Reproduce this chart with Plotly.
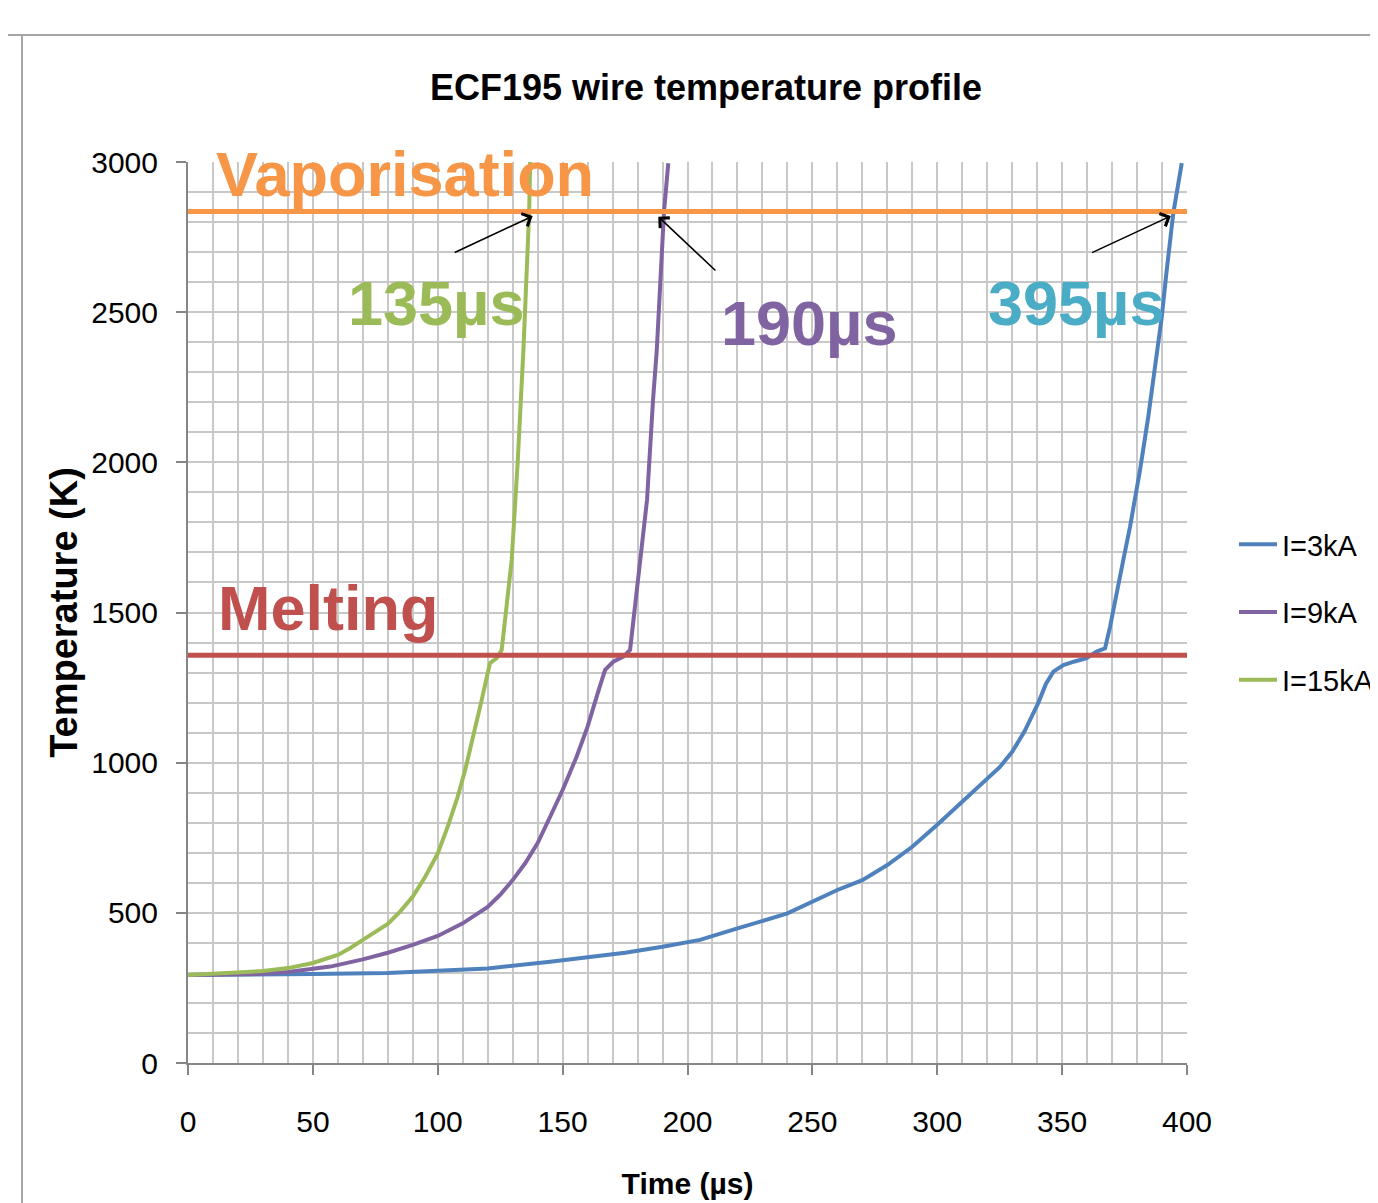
import plotly.graph_objects as go

# ---- data ----
t_3kA = [0, 20, 45, 50, 80, 100, 120, 145, 175, 190, 205, 220, 240, 260, 270, 280, 290, 300, 310, 319, 325, 330, 335,
         340.5, 343.5, 346.5, 350.5, 355, 359.8, 363.8, 367.2, 369.2, 371.2, 374.5, 377.2, 381.2, 384.5, 387.2, 389.9,
         391.9, 394.5, 397.9]
T_3kA = [293, 293, 294, 296, 300, 306, 315, 337, 367, 387, 410, 448, 498, 576, 609, 659, 720, 793, 870, 942, 985, 1036,
         1105, 1200, 1262, 1303, 1325, 1337, 1348, 1370, 1381, 1453, 1542, 1675, 1786, 1975, 2152, 2308, 2485,
         2641, 2829, 2996]

t_9kA = [0, 20, 30, 40, 50, 57, 70, 80, 90, 100, 110, 120, 125, 130, 135, 140, 145, 150, 155.6, 160, 164, 167, 170.3,
         174.3, 177, 181, 183.8, 186.2, 187.7, 190.6, 192.3]
T_9kA = [293, 294, 297, 303, 313, 321, 345, 367, 393, 423, 465, 520, 560, 609, 665, 732, 820, 909, 1020, 1120, 1230,
         1309, 1336, 1353, 1375, 1675, 1875, 2208, 2374, 2835, 2996]

t_15kA = [0, 17, 30, 40, 50, 60, 65, 70, 75, 80, 85, 90, 95, 100, 104, 108, 111, 114, 117.6, 120.9, 123.6, 125.6,
          129.6, 132, 134.3, 136.6, 137]
T_15kA = [293, 299, 306, 316, 333, 360, 383, 410, 435, 463, 505, 554, 620, 698, 787, 887, 976, 1076, 1209, 1331,
          1348, 1375, 1675, 2000, 2374, 2834, 3000]

series_names = ["I=3kA", "I=9kA", "I=15kA"]
series_colors = ["#4F81BD", "#8064A2", "#9BBB59"]

T_melt = 1358
T_vap = 2835
t_span = [0, 400]

x_ticks = [0, 50, 100, 150, 200, 250, 300, 350, 400]
y_ticks = [0, 500, 1000, 1500, 2000, 2500, 3000]

# annotation labels
labels = ["Vaporisation", "Melting", "135µs", "190µs", "395µs"]
label_t = [10.4, 11.2, 99.3, 248.8, 355.4]
label_T = [2960, 1515, 2531, 2464, 2531]
label_colors = ["#F79646", "#C0504D", "#9BBB59", "#8064A2", "#4BACC6"]
label_anchor = ["left", "left", "center", "center", "center"]

# arrows: tail (t, T) -> head (t, T)
arrow_tail_t = [106.2, 211.8, 361.4]
arrow_tail_T = [2696, 2634, 2696]
arrow_head_t = [138.0, 188.3, 393.5]
arrow_head_T = [2820, 2818, 2820]

FONT = "Liberation Sans, Arial, sans-serif"

# page has an 8px body margin: figure is laid out 8px smaller
W, H = 1370, 1195
L, R, T, B = 180, 191, 154, 140
PW, PH = W - L - R, H - T - B

fig = go.Figure()
for i, (tt, TT) in enumerate([(t_3kA, T_3kA), (t_9kA, T_9kA), (t_15kA, T_15kA)]):
    fig.add_trace(go.Scatter(x=tt, y=TT, mode="lines", name=series_names[i],
                             line=dict(color=series_colors[i], width=4),
                             legendgroup=series_names[i]))

fig.add_trace(go.Scatter(x=t_span, y=[T_melt, T_melt], mode="lines", showlegend=False,
                         line=dict(color="#C0504D", width=5), hoverinfo="skip"))
fig.add_trace(go.Scatter(x=t_span, y=[T_vap, T_vap], mode="lines", showlegend=False,
                         line=dict(color="#F79646", width=5), hoverinfo="skip"))

annotations = []
for i in range(len(labels)):
    annotations.append(dict(x=label_t[i], y=label_T[i], xref="x", yref="y", text="<b>%s</b>" % labels[i],
                            showarrow=False, xanchor=label_anchor[i], yanchor="middle",
                            font=dict(family=FONT, size=63, color=label_colors[i])))
for i in range(len(arrow_head_t)):
    annotations.append(dict(x=arrow_head_t[i], y=arrow_head_T[i], ax=arrow_tail_t[i], ay=arrow_tail_T[i],
                            xref="x", yref="y", axref="x", ayref="y", text="", showarrow=True,
                            arrowhead=4, arrowsize=1.7, arrowwidth=1.6, arrowcolor="black"))

frame_y = (H - 27 - B) / PH
frame_x = (14 - L) / PW

fig.update_layout(
    width=W, height=H,
    paper_bgcolor="white", plot_bgcolor="white",
    margin=dict(l=L, r=R, t=T, b=B, autoexpand=False),
    title=dict(text="<b>ECF195 wire temperature profile</b>", x=698 / W, xanchor="center",
               xref="container", yref="container", y=1 - 79 / H, yanchor="middle",
               font=dict(family=FONT, size=36, color="black")),
    showlegend=True,
    legend=dict(x=1226 / W, xref="container", xanchor="left", y=0.5, yanchor="middle",
                font=dict(family=FONT, size=29, color="black"), tracegroupgap=27,
                bgcolor="rgba(0,0,0,0)", itemwidth=38),
    annotations=annotations,
    shapes=[
        dict(type="line", xref="paper", yref="paper", x0=-L / PW, x1=(W - L) / PW, y0=frame_y, y1=frame_y,
             line=dict(color="#A6A6A6", width=2)),
        dict(type="line", xref="paper", yref="paper", x0=frame_x, x1=frame_x,
             y0=-B / PH, y1=frame_y, line=dict(color="#A6A6A6", width=2)),
    ],
)

fig.update_xaxes(range=[0, 400], tickvals=x_ticks, ticks="outside", ticklen=10, tickcolor="#868686",
                 tickwidth=2, showline=True, linecolor="#868686", linewidth=2, automargin=False,
                 showgrid=True, gridcolor="#C8C8C8", gridwidth=1.5,
                 minor=dict(dtick=10, showgrid=True, gridcolor="#C8C8C8", gridwidth=1.5),
                 tickfont=dict(family=FONT, size=30, color="black"), ticklabelstandoff=21,
                 title=dict(text="<b>Time (µs)</b>", font=dict(family=FONT, size=30, color="black"), standoff=36),
                 zeroline=False)
fig.update_yaxes(range=[0, 3000], tickvals=y_ticks, ticks="outside", ticklen=10, tickcolor="#868686",
                 tickwidth=2, showline=True, linecolor="#868686", linewidth=2, automargin=False,
                 showgrid=True, gridcolor="#C8C8C8", gridwidth=1.5,
                 minor=dict(dtick=100, showgrid=True, gridcolor="#C8C8C8", gridwidth=1.5),
                 tickfont=dict(family=FONT, size=30, color="black"), ticklabelstandoff=12,
                 title=dict(text="<b>Temperature (K)</b>", font=dict(family=FONT, size=38, color="black"), standoff=2),
                 zeroline=False)

fig.write_html("out.html")
